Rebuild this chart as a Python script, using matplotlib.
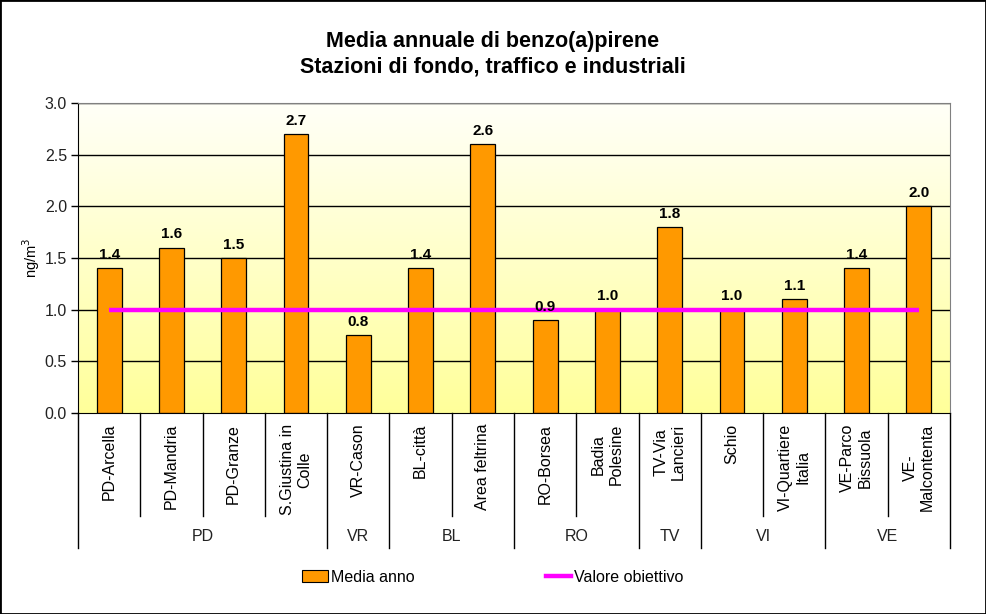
import numpy as np
import matplotlib
matplotlib.use('Agg')
import matplotlib.pyplot as plt
from matplotlib.patches import Patch, Rectangle
from matplotlib.lines import Line2D
from matplotlib.colors import LinearSegmentedColormap

plt.rcParams['font.family'] = ['Liberation Sans', 'DejaVu Sans']

stations = ['PD-Arcella', 'PD-Mandria', 'PD-Granze', 'S.Giustina in\nColle', 'VR-Cason',
            'BL-città', 'Area feltrina', 'RO-Borsea', 'Badia\nPolesine', 'TV-Via\nLancieri',
            'Schio', 'VI-Quartiere\nItalia', 'VE-Parco\nBissuola', 'VE-\nMalcontenta']
media = [1.4, 1.6, 1.5, 2.7, 0.75, 1.4, 2.6, 0.9, 1.0, 1.8, 1.0, 1.1, 1.4, 2.0]
obiettivo = 1.0
groups = ['PD', 'VR', 'BL', 'RO', 'TV', 'VI', 'VE']
group_sizes = [4, 1, 2, 2, 1, 2, 2]

fig = plt.figure(figsize=(9.86, 6.14), dpi=100)
ax = fig.add_axes([0.0791, 0.3274, 0.8844, 0.5048])

x = np.arange(len(media))
ax.set_xlim(-0.5, len(media) - 0.5)
ax.set_ylim(0, 3.0)

# sfondo sfumato
grad = np.linspace(0, 1, 256).reshape(-1, 1)
cmap = LinearSegmentedColormap.from_list('bg', ['#ffff9a', '#fffff8'])
ax.imshow(grad, aspect='auto', cmap=cmap, extent=(-0.5, len(media) - 0.5, 0, 3.0),
          origin='lower', zorder=0)

for yv in np.arange(0.5, 3.01, 0.5):
    ax.axhline(yv, color='black', lw=1.0, zorder=1)

ax.bar(x, media, width=0.4, color='#ff9900', edgecolor='black', linewidth=0.9, zorder=2)
ax.plot([x[0], x[-1]], [obiettivo, obiettivo], color='#ff00ff', lw=3.2, zorder=3,
        solid_capstyle='butt')

for xi, v in zip(x, media):
    ax.text(xi, v + 0.06, '%.1f' % v, ha='center', va='bottom', fontsize=11,
            fontweight='bold', zorder=4)

ax.set_yticks(np.arange(0, 3.01, 0.5))
ax.set_yticklabels(['%.1f' % t for t in np.arange(0, 3.01, 0.5)], fontsize=11.5, color='#222222')
ax.tick_params(axis='y', direction='out', length=5, width=1, pad=3)
ax.set_xticks([])
ax.set_ylabel('ng/m$^3$', fontsize=10.5, labelpad=2)

ax.spines['left'].set_color('black')
ax.spines['bottom'].set_color('black')
ax.spines['top'].set_color('#808080')
ax.spines['right'].set_color('#808080')
ax.spines['top'].set_linewidth(0.8)
ax.spines['right'].set_linewidth(0.8)

tr = ax.get_xaxis_transform()
for xi, name in zip(x, stations):
    ax.text(xi, -0.035, name, rotation=90, ha='center', va='top', fontsize=11.5,
            multialignment='center', transform=tr)

bounds = np.arange(len(media) + 1) - 0.5
group_edges = np.concatenate([[0], np.cumsum(group_sizes)]) - 0.5
for b in bounds:
    low = -0.435 if b in group_edges else -0.332
    ax.plot([b, b], [0, low], color='black', lw=1, transform=tr, clip_on=False)

for g, lo, hi in zip(groups, group_edges[:-1], group_edges[1:]):
    ax.text((lo + hi) / 2, -0.40, g, ha='center', va='center', fontsize=11.5,
            color='#222222', transform=tr)

fig.suptitle('Media annuale di benzo(a)pirene\nStazioni di fondo, traffico e industriali',
             y=0.95, fontsize=15.5, fontweight='bold', linespacing=1.3)

handles = [Patch(facecolor='#ff9900', edgecolor='black', linewidth=0.8),
           Line2D([0], [0], color='#ff00ff', lw=3.2)]
fig.legend(handles, ['Media anno', 'Valore obiettivo'], loc='center', ncol=2,
           bbox_to_anchor=(0.5, 0.06), frameon=False, fontsize=11.5, columnspacing=8.2,
           handlelength=1.6, handletextpad=0.2)

fig.add_artist(Rectangle((0, 0), 1, 1, transform=fig.transFigure, fill=False,
                         edgecolor='black', lw=2))

fig.savefig('out.png', dpi=100)
